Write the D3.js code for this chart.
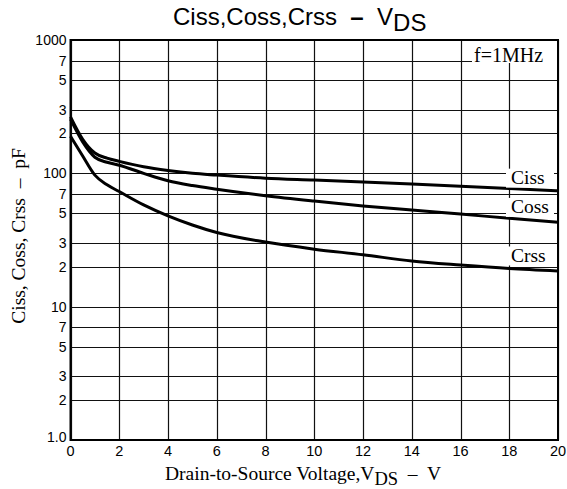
<!DOCTYPE html>
<html>
<head>
<meta charset="utf-8">
<script src="https://cdn.jsdelivr.net/npm/d3@7"></script>
<style>
  body { margin: 0; background: #fff; }
  svg { display: block; }
</style>
</head>
<body>
<svg id="chart" width="567" height="489"></svg>
<script>
// ==========================================
// DATA
// ==========================================
const vds = [0, 0.5, 1, 1.5, 2, 3, 4, 5, 6, 8, 10, 12, 14, 16, 18, 20];
const ciss = [265, 180, 142, 130, 123, 112, 105, 100, 97, 92, 89, 86, 83, 80, 77, 74];
const coss = [255, 172, 132, 121, 115, 100, 88, 81, 76, 68, 62, 57, 53, 49.5, 46, 43];
const crss = [190, 135, 97, 82, 73, 58, 48, 41, 36, 30.5, 27, 24.5, 22, 20.5, 19.3, 18.5];

const xTicks = [0, 2, 4, 6, 8, 10, 12, 14, 16, 18, 20];
const yGrid = [1, 2, 3, 5, 7, 10, 20, 30, 50, 70, 100, 200, 300, 500, 700, 1000];
const yTickLabels = ['1.0', '2', '3', '5', '7', '10', '2', '3', '5', '7', '100', '2', '3', '5', '7', '1000'];

const seriesNames = ['Ciss', 'Coss', 'Crss'];
const seriesLabelAt = [92, 55.5, 24];   // value where each name sits

// ==========================================
// LAYOUT
// ==========================================
const plotL = 70.5, plotR = 558, plotT = 40, plotB = 440;
const svg = d3.select('#chart');

const x = d3.scaleLinear().domain([0, 20]).range([plotL, plotR]);
const y = d3.scaleLog().domain([1, 1000]).range([plotB, plotT]);

const sans = 'Liberation Sans, Arial, sans-serif';
const serif = 'Liberation Serif, Times New Roman, serif';

// grid
const grid = svg.append('g').attr('stroke', '#111').attr('stroke-width', 1.2);
grid.selectAll('line.h').data(yGrid).enter().append('line')
  .attr('x1', plotL).attr('x2', plotR)
  .attr('y1', d => Math.round(y(d)) + 0.5).attr('y2', d => Math.round(y(d)) + 0.5);
grid.selectAll('line.v').data(xTicks).enter().append('line')
  .attr('y1', plotT).attr('y2', plotB)
  .attr('x1', d => Math.round(x(d)) + 0.5).attr('x2', d => Math.round(x(d)) + 0.5);

// y tick labels
svg.append('g').selectAll('text').data(yGrid).enter().append('text')
  .attr('x', plotL - 4).attr('y', d => y(d) + (d === 1 ? 2 : 5))
  .attr('text-anchor', 'end')
  .attr('font-family', sans).attr('font-size', 14)
  .text((d, i) => yTickLabels[i]);

// x tick labels
svg.append('g').selectAll('text').data(xTicks).enter().append('text')
  .attr('x', d => x(d)).attr('y', plotB + 16)
  .attr('text-anchor', 'middle')
  .attr('font-family', sans).attr('font-size', 14.5)
  .text(d => d);

// curves
const line = d3.line()
  .x((d, i) => x(vds[i]))
  .y(d => y(d))
  .curve(d3.curveMonotoneX);

[ciss, coss, crss].forEach(s => {
  svg.append('path').datum(s)
    .attr('d', line)
    .attr('fill', 'none')
    .attr('stroke', '#000')
    .attr('stroke-width', 3);
});

// series labels, breaking the grid lines behind them
seriesNames.forEach((name, i) => {
  const yy = y(seriesLabelAt[i]);
  svg.append('rect')
    .attr('x', 506).attr('y', yy - 9.5)
    .attr('width', 48).attr('height', 19)
    .attr('fill', '#fff');
  svg.append('text')
    .attr('x', 511).attr('y', yy + 6)
    .attr('font-family', serif).attr('font-size', 19.5)
    .text(name);
});

// f = 1MHz
svg.append('rect')
  .attr('x', 472).attr('y', 41).attr('width', 86).attr('height', 22)
  .attr('fill', '#fff');
svg.append('text')
  .attr('x', 474).attr('y', 62)
  .attr('font-family', serif).attr('font-size', 20)
  .text('f=1MHz');

// frame
svg.append('rect')
  .attr('x', plotL).attr('y', plotT)
  .attr('width', plotR - plotL).attr('height', plotB - plotT)
  .attr('fill', 'none').attr('stroke', '#000').attr('stroke-width', 2);

// title
const title = svg.append('text')
  .attr('x', 173).attr('y', 25)
  .attr('font-family', sans).attr('font-size', 24)
  .attr('xml:space', 'preserve');
title.append('tspan').text('Ciss,Coss,Crss  ');
title.append('tspan').attr('font-weight', 'bold').text('\u2013');
title.append('tspan').text('  V');
title.append('tspan').attr('dy', 6).text('DS');

// x axis title
const xt = svg.append('text')
  .attr('x', 165).attr('y', 480)
  .attr('font-family', serif).attr('font-size', 19.5)
  .attr('xml:space', 'preserve');
xt.append('tspan').text('Drain-to-Source Voltage,V');
xt.append('tspan').attr('dy', 5).attr('font-size', 18.5).text('DS');
xt.append('tspan').attr('dy', -5).text('  \u2013  V');

// y axis title
svg.append('text')
  .attr('transform', 'translate(25,' + 236 + ') rotate(-90)')
  .attr('text-anchor', 'middle')
  .attr('font-family', serif).attr('font-size', 19.5)
  .attr('xml:space', 'preserve')
  .text('Ciss, Coss, Crss  \u2013  pF');
</script>
</body>
</html>
